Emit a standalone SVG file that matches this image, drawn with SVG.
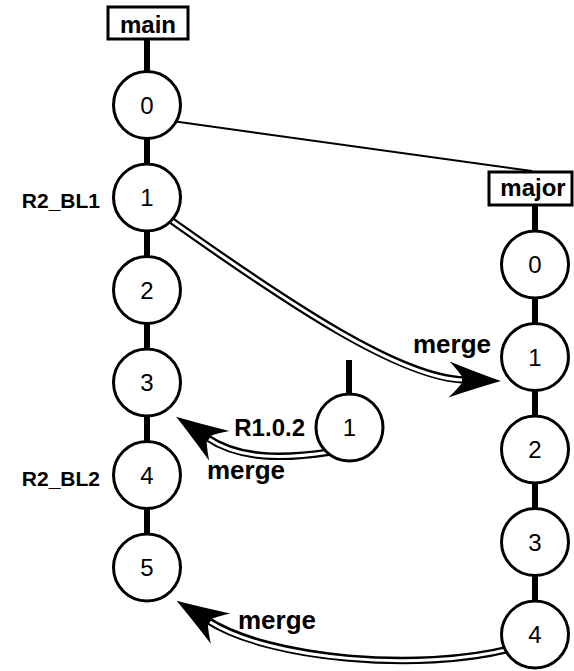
<svg xmlns="http://www.w3.org/2000/svg" width="574" height="671" viewBox="0 0 574 671">
<style>
.n circle{fill:#fff;stroke:#000;stroke-width:3}
.n text{font-family:"Liberation Sans",Arial,sans-serif;font-size:24px;text-anchor:middle;fill:#000}
.box rect{fill:#fff;stroke:#000;stroke-width:3}
.box text{font-family:"Liberation Sans",Arial,sans-serif;font-size:24px;font-weight:bold;text-anchor:middle}
.lbl{font-family:"Liberation Sans",Arial,sans-serif;font-weight:bold;fill:#000}
.trunk{stroke:#000;stroke-width:6;fill:none}
.thin{stroke:#000;stroke-width:2;fill:none}
.dblo{stroke:#000;stroke-width:7.5;fill:none}
.dbli{stroke:#fff;stroke-width:3;fill:none}
</style>
<defs>
<marker id="ah" markerUnits="userSpaceOnUse" markerWidth="80" markerHeight="80" refX="0" refY="0" viewBox="-30 -40 80 80" orient="auto" overflow="visible">
<path d="M36,0 Q14,-7 -16,-18 Q-5,-7 -1,0 Q-5,7 -16,18 Q14,7 36,0 Z" fill="#000"/>
</marker>
</defs>
<g id="connectors">
<line class="trunk" x1="147" y1="39" x2="147" y2="105"/>
<line class="trunk" x1="147" y1="105" x2="147" y2="567.5"/>
<line class="trunk" x1="535" y1="205" x2="535" y2="634.5"/>
<line class="trunk" x1="349" y1="360" x2="349" y2="427"/>
<line class="thin" x1="172" y1="121" x2="532" y2="171"/>
<path class="dblo" d="M165,216 C290,305 400,378 465,380" marker-end="url(#ah)"/>
<path class="dbli" d="M165,216 C290,305 400,378 462,380"/>
<path class="dblo" d="M330,452 C285,459 240,460 206,437" marker-end="url(#ah)"/>
<path class="dbli" d="M330,452 C285,459 240,460 209,439"/>
<path class="dblo" d="M510,649 C420,672 270,660 207,620" marker-end="url(#ah)"/>
<path class="dbli" d="M510,649 C420,672 270,660 210,622"/>
</g>
<g id="main" class="box"><rect x="108" y="7" width="80" height="32"/><text x="148" y="33">main</text></g>
<g id="major" class="box"><rect x="489" y="172" width="83" height="33"/><text x="533" y="196">major</text></g>
<g id="m0" class="n"><circle cx="147" cy="105" r="33.5"/><text x="147" y="113.5">0</text></g>
<g id="m1" class="n"><circle cx="147" cy="197.5" r="33.5"/><text x="147" y="206">1</text></g>
<g id="m2" class="n"><circle cx="147" cy="290" r="33.5"/><text x="147" y="298.5">2</text></g>
<g id="m3" class="n"><circle cx="147" cy="382.5" r="33.5"/><text x="147" y="391">3</text></g>
<g id="m4" class="n"><circle cx="147" cy="475" r="33.5"/><text x="147" y="483.5">4</text></g>
<g id="m5" class="n"><circle cx="147" cy="567.5" r="33.5"/><text x="147" y="576">5</text></g>
<g id="j0" class="n"><circle cx="535" cy="264.5" r="33.5"/><text x="535" y="273">0</text></g>
<g id="j1" class="n"><circle cx="535" cy="357" r="33.5"/><text x="535" y="365.5">1</text></g>
<g id="j2" class="n"><circle cx="535" cy="449.5" r="33.5"/><text x="535" y="458">2</text></g>
<g id="j3" class="n"><circle cx="535" cy="542" r="33.5"/><text x="535" y="550.5">3</text></g>
<g id="j4" class="n"><circle cx="535" cy="634.5" r="33.5"/><text x="535" y="643">4</text></g>
<g id="b1" class="n"><circle cx="349.5" cy="427.5" r="33.5"/><text x="349.5" y="436">1</text></g>
<g id="labels">
<text class="lbl" x="100" y="208" font-size="21" text-anchor="end">R2_BL1</text>
<text class="lbl" x="100" y="485.5" font-size="21" text-anchor="end">R2_BL2</text>
<text class="lbl" x="305" y="436" font-size="24" text-anchor="end">R1.0.2</text>
<text class="lbl" x="452" y="353" font-size="26" text-anchor="middle">merge</text>
<text class="lbl" x="246" y="479" font-size="26" text-anchor="middle">merge</text>
<text class="lbl" x="277" y="629" font-size="26" text-anchor="middle">merge</text>
</g>
</svg>
